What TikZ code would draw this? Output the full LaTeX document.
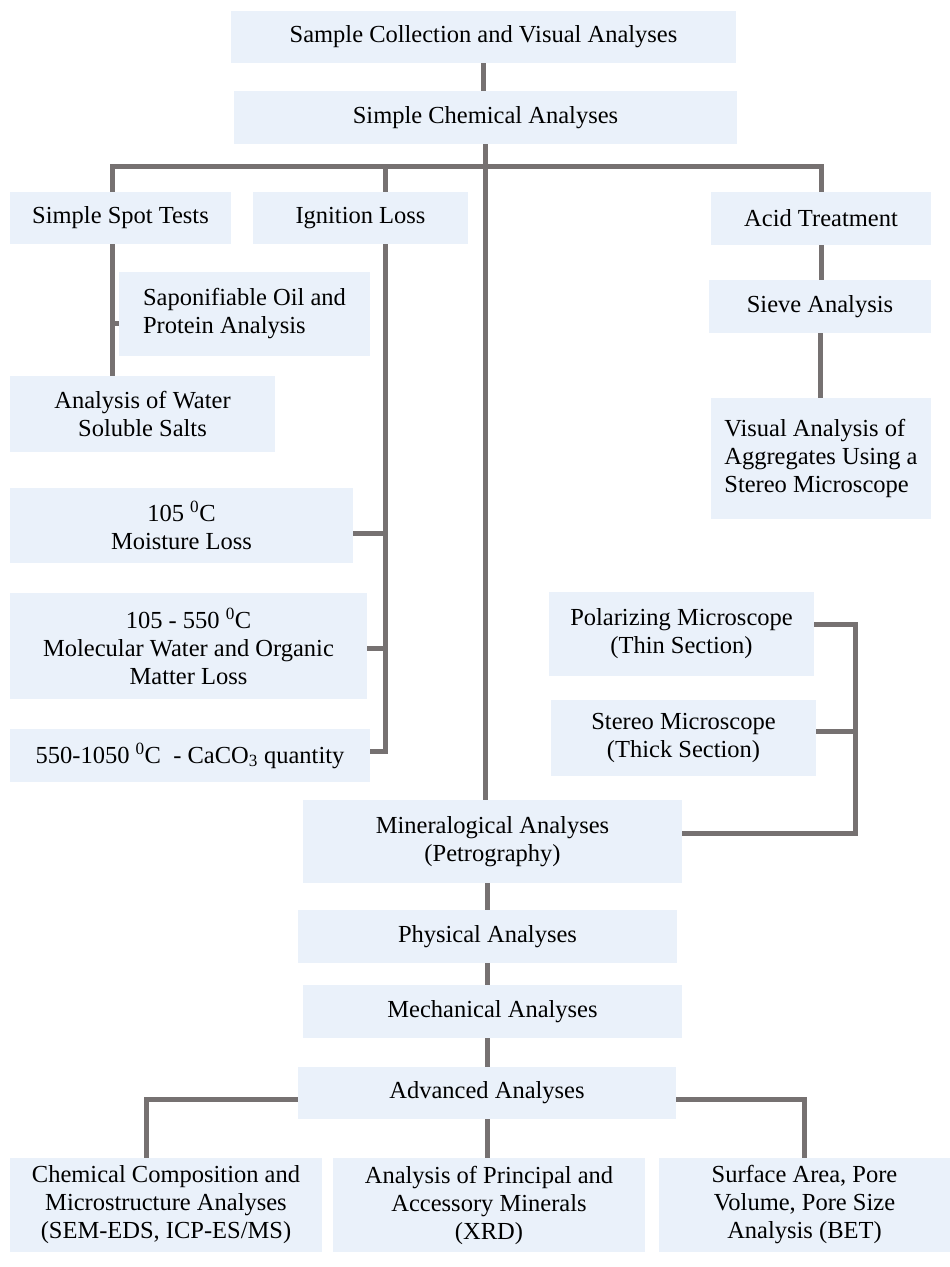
\documentclass[tikz,border=0pt]{standalone}
\usepackage{fontspec}
\setmainfont{Liberation Serif}
\definecolor{boxblue}{RGB}{234,241,250}
\definecolor{linkgray}{RGB}{118,113,113}
\tikzset{
  box/.style={fill=boxblue, inner sep=0pt, align=center, font=\fontsize{24.5}{28}\selectfont},
  link/.style={draw=linkgray, line width=5pt},
}
\begin{document}
\begin{tikzpicture}[x=1pt,y=-1pt]
	\useasboundingbox (0,0) rectangle (950,1267);
	% top of the tree
	\node[box, minimum width=505, minimum height=52] (AA) at (483.5,37) {Sample Collection and Visual Analyses};
	\node[box, minimum width=503, minimum height=53] (AB) at (485.5,117.5) {Simple Chemical Analyses};
	\node[box, minimum width=221, minimum height=52] (AC) at (120.5,218) {Simple Spot Tests};
	\node[box, minimum width=215, minimum height=52] (AD) at (360.5,218) {Ignition Loss};
	\node[box, minimum width=220, minimum height=53] (AE) at (821,218.5) {Acid Treatment};
	% left branches
	\node[box, minimum width=251, minimum height=84, align=left] (AF) at (244.5,314) {Saponifiable Oil and\\Protein Analysis};
	\node[box, minimum width=265, minimum height=76] (AG) at (142.5,414) {Analysis of Water\\Soluble Salts};
	\node[box, minimum width=343, minimum height=75] (AJ) at (181.5,525.5) {105 \textsuperscript{0}C\\Moisture Loss};
	\node[box, minimum width=357, minimum height=106] (AK) at (188.5,646) {105 - 550 \textsuperscript{0}C\\Molecular Water and Organic\\Matter Loss};
	\node[box, minimum width=360, minimum height=53] (AL) at (190,755.5) {550-1050 \textsuperscript{0}C~~- CaCO\textsubscript{3} quantity};
	% right branch
	\node[box, minimum width=222, minimum height=53] (AH) at (820,306.5) {Sieve Analysis};
	\node[box, minimum width=220, minimum height=121, align=left] (AI) at (821,458.5) {Visual Analysis of\\Aggregates Using a\\Stereo Microscope};
	\node[box, minimum width=265, minimum height=84] (AM) at (681.5,634) {Polarizing Microscope\\(Thin Section)};
	\node[box, minimum width=265, minimum height=76] (AN) at (683.5,738) {Stereo Microscope\\(Thick Section)};
	% main line
	\node[box, minimum width=379, minimum height=83] (AO) at (492.5,841.5) {Mineralogical Analyses\\(Petrography)};
	\node[box, minimum width=379, minimum height=53] (AP) at (487.5,936.5) {Physical Analyses};
	\node[box, minimum width=379, minimum height=53] (AQ) at (492.5,1011.5) {Mechanical Analyses};
	\node[box, minimum width=378, minimum height=52] (AR) at (487,1093) {Advanced Analyses};
	\node[box, minimum width=312, minimum height=94] (AS) at (166,1205) {Chemical Composition and\\Microstructure Analyses\\(SEM-EDS, ICP-ES/MS)};
	\node[box, minimum width=312, minimum height=94] (AT) at (489,1205) {Analysis of Principal and\\Accessory Minerals\\(XRD)};
	\node[box, minimum width=291, minimum height=94] (AU) at (804.5,1205) {Surface Area, Pore\\Volume, Pore Size\\Analysis (BET)};

	\coordinate (SP) at (112,166);
	\coordinate (IG) at (385,166);
	\coordinate (AC2) at (821,166);
	\coordinate (TR) at (485,0);
	\coordinate (BK) at (855,0);
	\coordinate (LO) at (487,0);
	\coordinate (CH) at (146,0);

	\draw[link] (AA.south) -- (AA.south |- AB.north);
	\draw[link] (TR |- AB.south) -- (TR |- AO.north);
	\draw[link] (SP |- AC.north) -- (SP) -- (AC2) -- (AC2 |- AE.north);
	\draw[link] (IG) -- (IG |- AD.north);
	\draw[link] (SP |- AC.south) -- (SP |- AG.north);
	\draw[link] ([yshift=-9pt]AF.west) -- ([yshift=-9pt]AF.west -| SP);
	\draw[link] (IG |- AD.south) -- ([yshift=4.5pt]IG |- AL.east) -- ([yshift=4.5pt]AL.east);
	\draw[link] ([yshift=-7.5pt]AJ.east) -- ([yshift=-7.5pt]AJ.east -| IG);
	\draw[link] ([yshift=-2pt]AK.east) -- ([yshift=-2pt]AK.east -| IG);
	\draw[link] (AE.south) -- (AE.south |- AH.north);
	\draw[link] (AH.south) -- (AH.south |- AI.north);
	\draw[link] ([yshift=10pt]AM.east) -- ([yshift=10pt]AM.east -| BK) -- ([yshift=8.5pt]BK |- AO.east) -- ([yshift=8.5pt]AO.east);
	\draw[link] ([yshift=7pt]AN.east) -- ([yshift=7pt]AN.east -| BK);
	\draw[link] (LO |- AO.south) -- (LO |- AP.north);
	\draw[link] (LO |- AP.south) -- (LO |- AQ.north);
	\draw[link] (LO |- AQ.south) -- (LO |- AR.north);
	\draw[link] (LO |- AR.south) -- (LO |- AT.north);
	\draw[link] ([yshift=-6pt]AR.west) -- ([yshift=-6pt]AR.west -| CH) -- (CH |- AS.north);
	\draw[link] ([yshift=-6pt]AR.east) -- ([yshift=-6pt]AR.east -| AU.north) -- (AU.north);
\end{tikzpicture}
\end{document}
